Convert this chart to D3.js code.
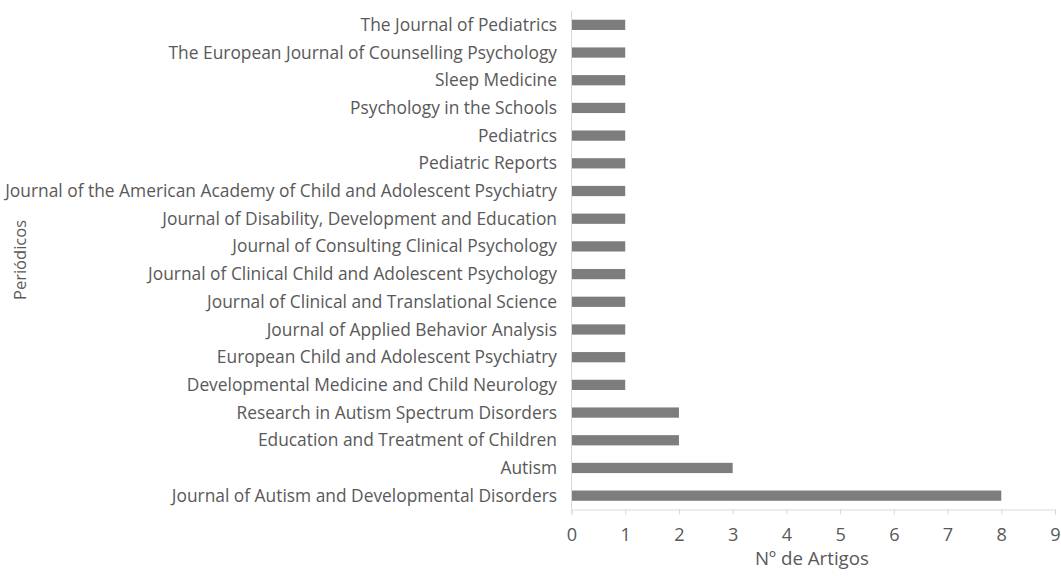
<!DOCTYPE html>
<html><head><meta charset="utf-8">
<script src="https://cdn.jsdelivr.net/npm/d3@7"></script>
<style>body{margin:0;background:#fff}</style>
</head><body>
<svg id="c" width="1061" height="576"></svg>
<script>
const categories = [
 "The Journal of Pediatrics",
 "The European Journal of Counselling Psychology",
 "Sleep Medicine",
 "Psychology in the Schools",
 "Pediatrics",
 "Pediatric Reports",
 "Journal of the American Academy of Child and Adolescent Psychiatry",
 "Journal of Disability, Development and Education",
 "Journal of Consulting Clinical Psychology",
 "Journal of Clinical Child and Adolescent Psychology",
 "Journal of Clinical and Translational Science",
 "Journal of Applied Behavior Analysis",
 "European Child and Adolescent Psychiatry",
 "Developmental Medicine and Child Neurology",
 "Research in Autism Spectrum Disorders",
 "Education and Treatment of Children",
 "Autism",
 "Journal of Autism and Developmental Disorders"
];
const values = [1,1,1,1,1,1,1,1,1,1,1,1,1,1,2,2,3,8];
const xTicks = [0,1,2,3,4,5,6,7,8,9];
const xTitle = "Nº de Artigos";
const yTitle = "Periódicos";

const svg = d3.select("#c");
const font = "'Open Sans', sans-serif";
const col = "#595959";
const x = d3.scaleLinear().domain([0,9]).range([571.5,1055]);
const y = d3.scaleBand().domain(categories).range([11,509.5]).paddingInner(0.63).paddingOuter(0.315);

function fitSize(text, target, base) {
  const t = svg.append("text").attr("font-family",font).attr("font-size",base).text(text);
  const w = t.node().getComputedTextLength();
  t.remove();
  return base * target / w;
}
const labelSize = fitSize(categories[6], 552, 14);
const titleSize = fitSize(xTitle, 114, 14);
const yTitleSize = fitSize(yTitle, 80, 14);

svg.append("g").selectAll("rect").data(categories).join("rect")
  .attr("x", x(0)).attr("y", d=>y(d))
  .attr("width", (d,i)=>x(values[i])-x(0)).attr("height", y.bandwidth())
  .attr("fill","#7d7d7d");

svg.append("line").attr("x1",x(0)).attr("x2",x(0)).attr("y1",11).attr("y2",509.5)
  .attr("stroke","#d9d9d9").attr("stroke-width",1);
const xa = svg.append("g").attr("transform","translate(0,509.5)")
  .call(d3.axisBottom(x).tickValues(xTicks).tickSize(5).tickPadding(14).tickFormat(d3.format("d")));
xa.select(".domain").attr("stroke","#d9d9d9");
xa.selectAll(".tick line").attr("stroke","#d9d9d9");
xa.selectAll("text").attr("font-family",font).attr("font-size",titleSize*0.97).attr("fill",col);

svg.append("g").selectAll("text").data(categories).join("text")
  .attr("x",557).attr("y",d=>y(d)+y.bandwidth()/2).attr("dy","0.35em")
  .attr("text-anchor","end").attr("font-family",font).attr("font-size",labelSize).attr("fill",col)
  .text(d=>d);

svg.append("text").attr("x",812).attr("y",565).attr("text-anchor","middle")
  .attr("font-family",font).attr("font-size",titleSize).attr("fill",col).text(xTitle);
svg.append("text").attr("transform","translate(26,260) rotate(-90)").attr("text-anchor","middle")
  .attr("font-family",font).attr("font-size",yTitleSize).attr("fill",col).text(yTitle);
</script>
</body></html>
